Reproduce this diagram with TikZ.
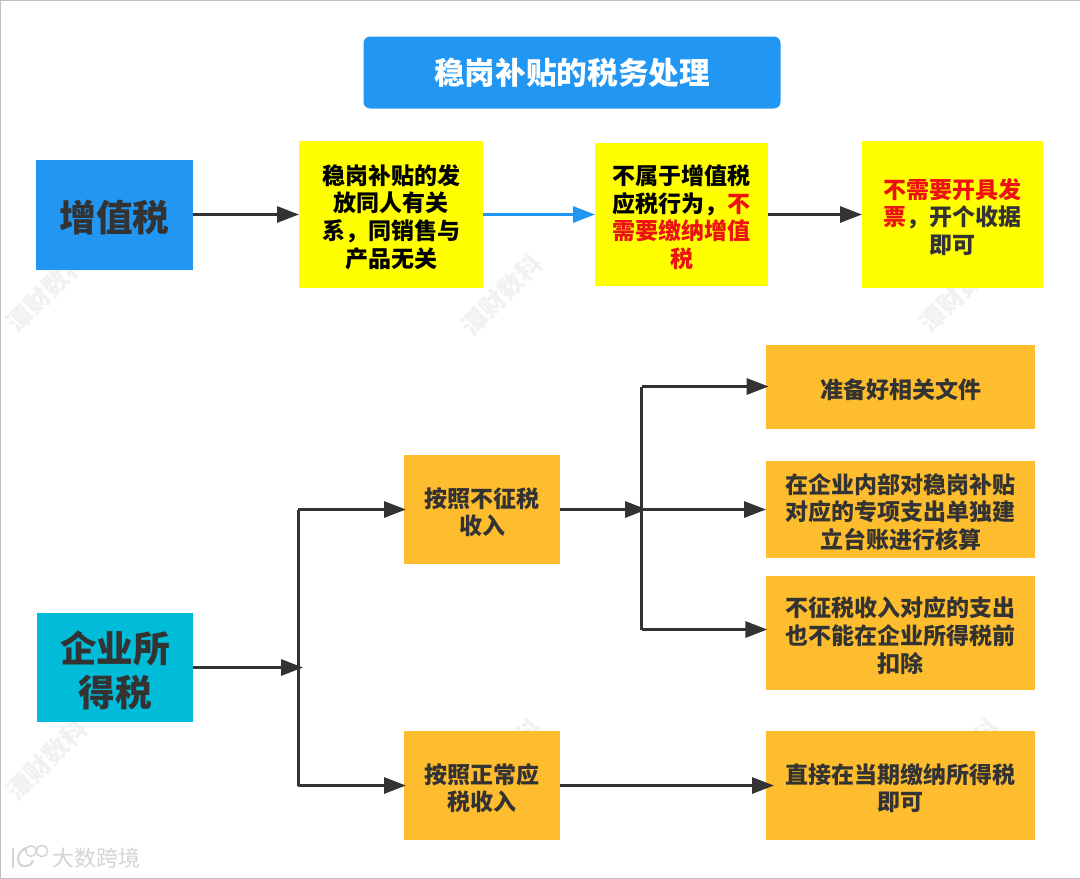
\documentclass[tikz,border=0pt]{standalone}
\usepackage{fontspec}
\setmainfont{Noto Sans CJK SC}
\usetikzlibrary{arrows.meta}
\definecolor{ink}{HTML}{333333}
\definecolor{bluebox}{HTML}{2196F3}
\definecolor{cyanbox}{HTML}{00BCD9}
\definecolor{orangebox}{HTML}{FDBD2E}
\definecolor{purey}{RGB}{255,255,0}
\definecolor{redtext}{HTML}{EE1111}
\definecolor{wm}{HTML}{F1F1F1}
\definecolor{logoc}{HTML}{D4D4D4}
\newcommand{\rd}[1]{\textcolor{redtext}{#1}}
\newcommand{\nudge}{\rule{0pt}{\dimexpr 0.95em+2.4pt\relax}}
\tikzset{
  x=0.75pt,y=-0.75pt,
  box/.style={inner sep=0pt,outer sep=0pt,align=center,font=\fontsize{17.25}{20.8}\selectfont\bfseries,text=ink},
  yellowbox/.style={box,fill=purey,text=black},
  orangenode/.style={box,fill=orangebox},
  headbox/.style={box,font=\fontsize{27.5}{33}\selectfont\bfseries},
  conn/.style={draw=ink,line width=2.25pt,-{Triangle[length=16.5pt,width=12pt]}},
  trunk/.style={draw=ink,line width=2.25pt},
  bluearrow/.style={draw=bluebox,line width=2.25pt,-{Triangle[length=16.5pt,width=12pt]}},
  watermark/.style={text=wm,font=\fontsize{19}{19}\selectfont\bfseries,rotate=45,inner sep=0pt},
}
\begin{document}
\begin{tikzpicture}
\useasboundingbox (0,0) rectangle (1080,878);
\draw[draw=black!25,line width=0.75pt] (0,0) rectangle (1080,878);
% watermarks
\foreach \n/\wx/\wy in {wa/47/292,wb/502/295,wc/960/292,wd/47/760,we/502/760,wf/960/760}
  \node[watermark] (\n) at (\wx,\wy) {潭财数科};
\node[text=logoc,font=\fontsize{16.5}{16.5}\selectfont,inner sep=0pt] (logo) at (96,858) {大数跨境};
\node[draw=logoc,line width=1.1pt,circle,minimum size=8pt,inner sep=0pt] (logoa) at (31,851) {};
\node[draw=logoc,line width=1.1pt,circle,minimum size=8.5pt,inner sep=0pt] (logob) at (42,851) {};
\draw[logoc,line width=1.6pt,line cap=round] (13,849) -- (13,867);
\draw[logoc,line width=1.6pt,line cap=round] (26,848) .. controls (15,852) and (16,868) .. (26,866) .. controls (30,865) and (32,864) .. (33,861);
% title
\node[box,fill=bluebox,text=white,rounded corners=5pt,minimum width=312.75pt,minimum height=54pt,font=\fontsize{23}{28}\selectfont\bfseries] (title) at (572,72.5) {稳岗补贴的税务处理};
% row 1
\node[headbox,fill=bluebox,minimum width=117.75pt,minimum height=82.5pt] (vat) at (114.5,214.5) {\nudge 增值税};
\node[yellowbox,minimum width=138pt,minimum height=110.25pt] (y1) at (391,214.5) {\nudge 稳岗补贴的发\\放同人有关\\系，同销售与\\产品无关};
\node[yellowbox,minimum width=129.75pt,minimum height=107.25pt] (y2) at (681.5,214.5) {\nudge 不属于增值税\\应税行为，\rd{不}\\\rd{需要缴纳增值}\\\rd{税}};
\node[yellowbox,text=ink,minimum width=135.75pt,minimum height=110.25pt] (y3) at (952.5,214.5) {\nudge \rd{不需要开具发}\\\rd{票}，开个收据\\即可};
% row 2
\node[headbox,fill=cyanbox,minimum width=117pt,minimum height=81.75pt] (cit) at (115,667.5) {\nudge 企业所\\得税};
\node[orangenode,minimum width=117pt,minimum height=81.75pt] (a) at (482,509.5) {\nudge 按照不征税\\收入};
\node[orangenode,minimum width=117pt,minimum height=81.75pt] (b) at (482,785.5) {\nudge 按照正常应\\税收入};
\node[orangenode,minimum width=201.75pt,minimum height=63pt] (o1) at (900.5,387) {\nudge 准备好相关文件};
\node[orangenode,minimum width=201.75pt,minimum height=72.75pt] (o2) at (900.5,509.5) {\nudge 在企业内部对稳岗补贴\\对应的专项支出单独建\\立台账进行核算};
\node[orangenode,minimum width=201.75pt,minimum height=85.5pt] (o3) at (900.5,633) {\nudge 不征税收入对应的支出\\也不能在企业所得税前\\扣除};
\node[orangenode,minimum width=201.75pt,minimum height=81.75pt] (o4) at (900.5,785.5) {\nudge 直接在当期缴纳所得税\\即可};
% junctions
\coordinate (citend) at (303,667.5);
\coordinate (ta) at (298,509.5);
\coordinate (tb) at (298,785.5);
\coordinate (aend) at (647,509.5);
\coordinate (t1) at (641.5,386.5);
\coordinate (t2) at (641.5,509.5);
\coordinate (t3) at (641.5,629.5);
% connectors
\draw[conn] (vat.east) -- (y1.west);
\draw[bluearrow] (y1.east) -- (y2.west);
\draw[conn] (y2.east) -- (y3.west);
\draw[conn] (cit.east) -- (citend);
\draw[trunk] (ta) -- (tb);
\draw[conn,shorten >=-1.5pt] (ta) -- (a.west);
\draw[conn,shorten >=-1.5pt] (tb) -- (b.west);
\draw[conn] (a.east) -- (aend);
\draw[trunk] (t1) -- (t3);
\draw[conn,shorten >=-2pt] (t1) -- (o1.west |- t1);
\draw[conn] (t2) -- (o2.west |- t2);
\draw[conn,shorten >=-1pt] (t3) -- (o3.west |- t3);
\draw[conn,shorten >=-6pt] (b.east) -- (o4.west);
\end{tikzpicture}
\end{document}
